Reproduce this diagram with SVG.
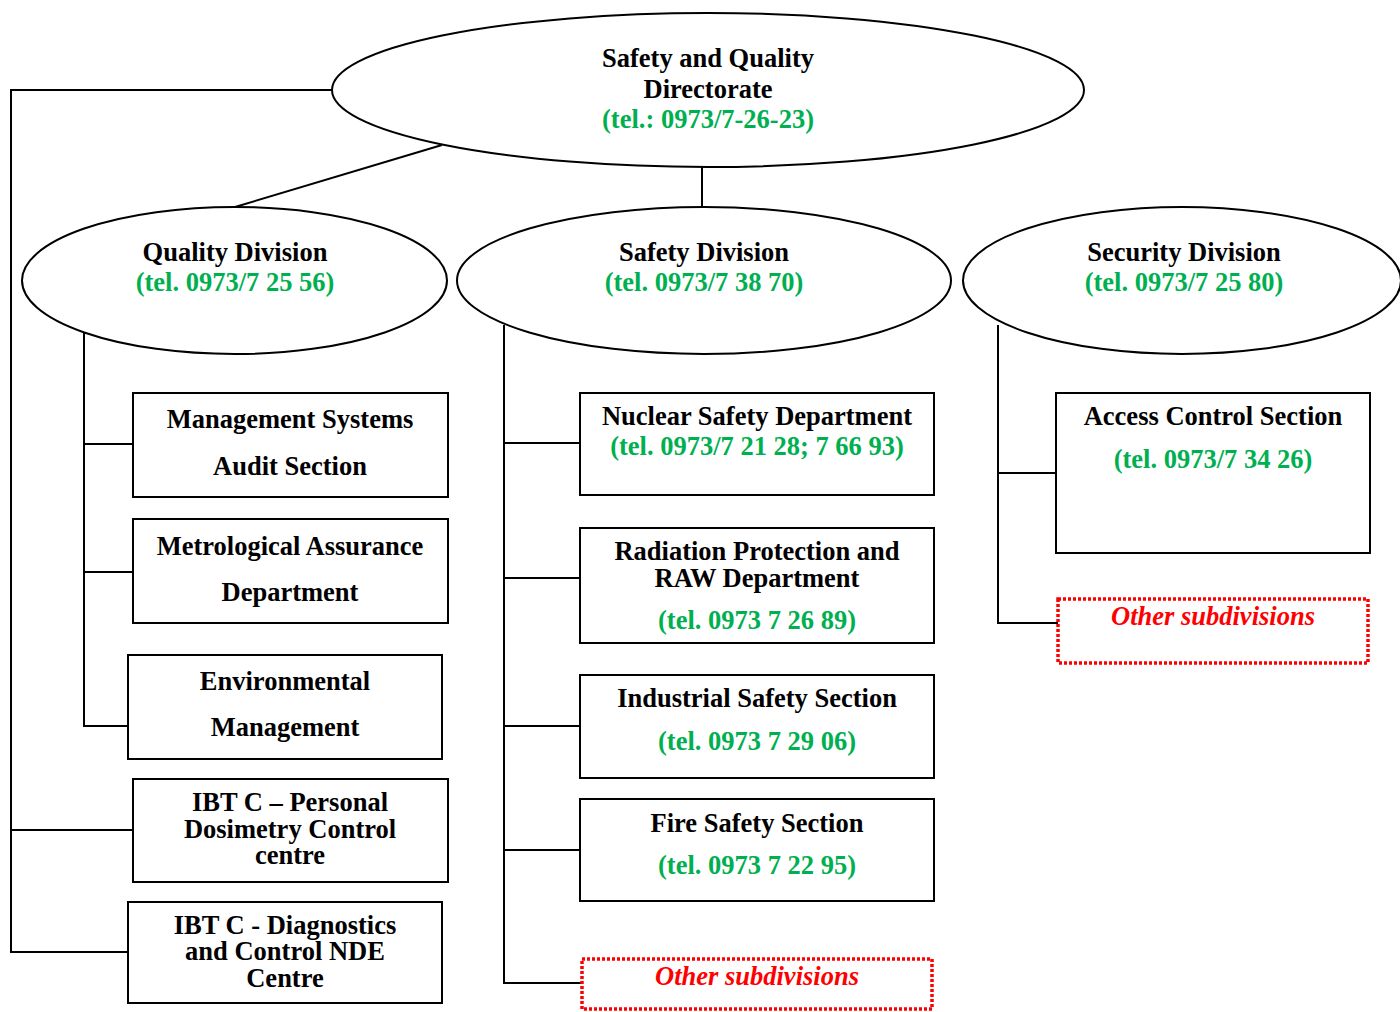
<svg xmlns="http://www.w3.org/2000/svg" width="1400" height="1012" viewBox="0 0 1400 1012">
<style>
text{font-family:"Liberation Serif","Times New Roman",serif;font-weight:bold;font-size:26.5px;text-anchor:middle;fill:#000}
.g{fill:#00B050}
.r{fill:#FF0000;font-style:italic}
.n{fill:#fff;stroke:#000;stroke-width:2}
.d{fill:#fff;stroke:#FF0000;stroke-width:3.5;stroke-dasharray:3 2}
.c{fill:none;stroke:#000;stroke-width:2}
</style>
<rect width="1400" height="1012" fill="#fff"/>
<g id="connectors">
<polyline class="c" points="332,90 11,90 11,952 128,952"/>
<line class="c" x1="11" y1="830" x2="133" y2="830"/>
<line class="c" x1="442" y1="145" x2="235" y2="207"/>
<line class="c" x1="702" y1="167" x2="702" y2="207"/>
<polyline class="c" points="84,333 84,726 128,726"/>
<line class="c" x1="84" y1="444" x2="133" y2="444"/>
<line class="c" x1="84" y1="572" x2="133" y2="572"/>
<polyline class="c" points="504,325 504,983 582,983"/>
<line class="c" x1="504" y1="443" x2="580" y2="443"/>
<line class="c" x1="504" y1="578" x2="580" y2="578"/>
<line class="c" x1="504" y1="726" x2="580" y2="726"/>
<line class="c" x1="504" y1="850" x2="580" y2="850"/>
<polyline class="c" points="998,325 998,623 1058,623"/>
<line class="c" x1="998" y1="473" x2="1056" y2="473"/>
</g>
<g id="directorate">
<ellipse class="n" cx="708" cy="90" rx="376" ry="77"/>
<text x="708" y="67">Safety and Quality</text>
<text x="708" y="98">Directorate</text>
<text class="g" x="708" y="128">(tel.: 0973/7-26-23)</text>
</g>
<g id="quality-division">
<ellipse class="n" cx="234.5" cy="280.5" rx="212.5" ry="73.5"/>
<text x="235" y="261">Quality Division</text>
<text class="g" x="235" y="291">(tel. 0973/7 25 56)</text>
</g>
<g id="safety-division">
<ellipse class="n" cx="704" cy="280.5" rx="247" ry="73.5"/>
<text x="704" y="261">Safety Division</text>
<text class="g" x="704" y="291">(tel. 0973/7 38 70)</text>
</g>
<g id="security-division">
<ellipse class="n" cx="1182" cy="280.5" rx="219" ry="73.5"/>
<text x="1184" y="261">Security Division</text>
<text class="g" x="1184" y="291">(tel. 0973/7 25 80)</text>
</g>
<g id="audit-section">
<rect class="n" x="133" y="393" width="315" height="104"/>
<text x="290" y="428">Management Systems</text>
<text x="290" y="475">Audit Section</text>
</g>
<g id="metrological">
<rect class="n" x="133" y="519" width="315" height="104"/>
<text x="290" y="555">Metrological Assurance</text>
<text x="290" y="601">Department</text>
</g>
<g id="environmental">
<rect class="n" x="128" y="655" width="314" height="104"/>
<text x="285" y="690">Environmental</text>
<text x="285" y="736">Management</text>
</g>
<g id="ibtc-dosimetry">
<rect class="n" x="133" y="779" width="315" height="103"/>
<text x="290" y="811">IBT C – Personal</text>
<text x="290" y="838">Dosimetry Control</text>
<text x="290" y="864">centre</text>
</g>
<g id="ibtc-nde">
<rect class="n" x="128" y="902" width="314" height="101"/>
<text x="285" y="934">IBT C - Diagnostics</text>
<text x="285" y="960">and Control NDE</text>
<text x="285" y="987">Centre</text>
</g>
<g id="nuclear-safety">
<rect class="n" x="580" y="393" width="354" height="102"/>
<text x="757" y="425">Nuclear Safety Department</text>
<text class="g" x="757" y="455">(tel. 0973/7 21 28; 7 66 93)</text>
</g>
<g id="radiation-protection">
<rect class="n" x="580" y="528" width="354" height="115"/>
<text x="757" y="560">Radiation Protection and</text>
<text x="757" y="587">RAW Department</text>
<text class="g" x="757" y="629">(tel. 0973 7 26 89)</text>
</g>
<g id="industrial-safety">
<rect class="n" x="580" y="675" width="354" height="103"/>
<text x="757" y="707">Industrial Safety Section</text>
<text class="g" x="757" y="750">(tel. 0973 7 29 06)</text>
</g>
<g id="fire-safety">
<rect class="n" x="580" y="799" width="354" height="102"/>
<text x="757" y="832">Fire Safety Section</text>
<text class="g" x="757" y="874">(tel. 0973 7 22 95)</text>
</g>
<g id="safety-other">
<rect class="d" x="582" y="959" width="350" height="50"/>
<text class="r" x="757" y="985">Other subdivisions</text>
</g>
<g id="access-control">
<rect class="n" x="1056" y="393" width="314" height="160"/>
<text x="1213" y="425">Access Control Section</text>
<text class="g" x="1213" y="468">(tel. 0973/7 34 26)</text>
</g>
<g id="security-other">
<rect class="d" x="1058" y="599" width="310" height="64"/>
<text class="r" x="1213" y="625">Other subdivisions</text>
</g>
</svg>
